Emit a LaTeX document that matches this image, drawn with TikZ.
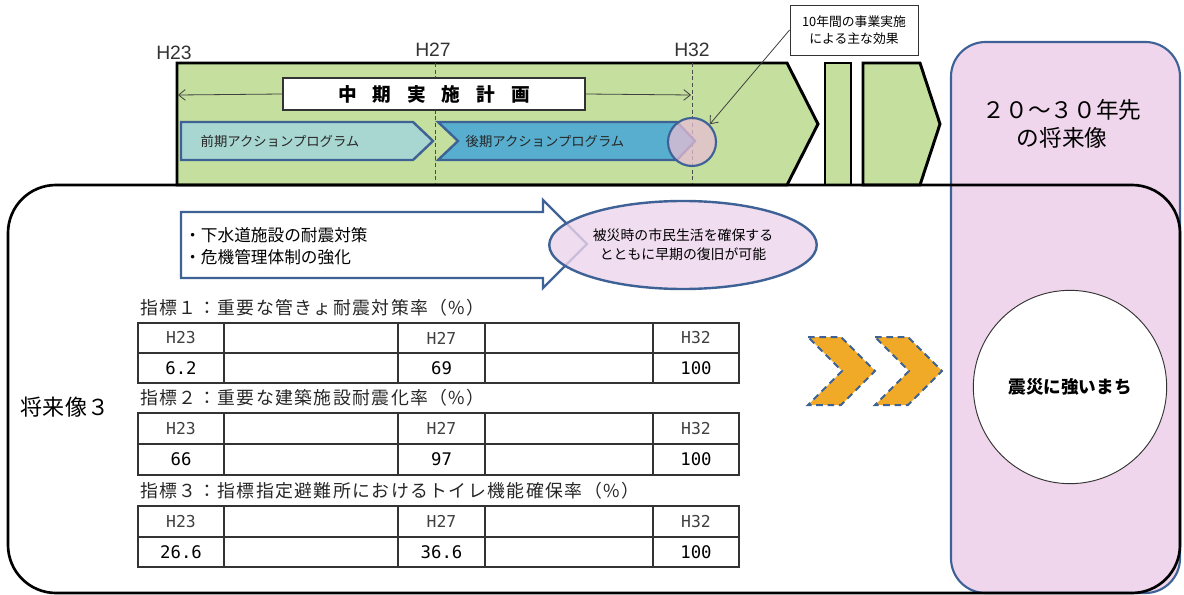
\documentclass[tikz,border=0pt]{standalone}
\usepackage{fontspec}
\setmainfont{Noto Sans CJK JP}
\newfontfamily\lat{Liberation Sans}
\newfontfamily\mono{DejaVu Sans Mono}
\newfontfamily\ttlfont[LetterSpace=8]{Noto Sans CJK JP}
\usetikzlibrary{shapes.geometric,arrows.meta,calc}
\definecolor{bgreen}{RGB}{196,223,158}
\definecolor{bblue}{RGB}{62,98,150}
\definecolor{teal1}{RGB}{168,214,208}
\definecolor{teal2}{RGB}{88,174,206}
\definecolor{pinkbg}{RGB}{239,214,236}
\definecolor{pinkel}{RGB}{236,212,236}
\definecolor{orng}{RGB}{240,170,40}
\tikzset{
  banner/.style={draw=black,line width=2.2pt,fill=bgreen,line join=miter},
  progarrow/.style={draw=bblue,line width=1.8pt,line join=miter},
  thinarrow/.style={draw=black!75,line width=0.6pt,-{Straight Barb[length=5pt,width=8pt]}},
  yearlbl/.style={font=\lat\fontsize{14.5pt}{16pt}\selectfont,text=black!80},
  tabline/.style={draw=black!80,line width=0.8pt},
  tabtitle/.style={anchor=west,font=\ttlfont\fontsize{13.4pt}{15pt}\selectfont,text=black!85,inner sep=0pt},
  hdr/.style={font=\mono\fontsize{12.3pt}{13pt}\selectfont,text=black!75},
  val/.style={font=\mono\fontsize{13pt}{14pt}\selectfont,text=black},
  chev/.style={fill=orng,draw=bblue,line width=1.5pt,dash pattern=on 5pt off 3.5pt,line join=miter}
}
\begin{document}
\begin{tikzpicture}[x=0.75pt,y=-0.75pt]
\useasboundingbox (0,0) rectangle (1184,595);

% green banner
\draw[banner] (177,63) -- (787,63) -- (818,124) -- (787,185) -- (177,185) -- cycle;
\draw[banner] (825,63) rectangle (851,185);
\draw[banner] (863,63) -- (920,63) -- (940,124) -- (920,185) -- (863,185) -- cycle;

% dashed year lines
\draw[black!70,line width=0.7pt,dash pattern=on 3pt off 2pt] (435,63) -- (435,185);
\draw[black!70,line width=0.7pt,dash pattern=on 3pt off 2pt] (692,63) -- (692,185);

% year labels
\node[yearlbl] (y23) at (174,53) {H23};
\node[yearlbl] (y27) at (433,50) {H27};
\node[yearlbl] (y32) at (692,50) {H32};

% plan box
\node[draw=black!80,line width=0.8pt,fill=white,minimum width=226.5pt,minimum height=24pt,
      font=\bfseries\fontsize{14pt}{16pt}\selectfont] (plan) at (434,94)
      {中\hspace{12pt}期\hspace{12pt}実\hspace{12pt}施\hspace{12pt}計\hspace{12pt}画};
\coordinate (l23) at (178,95);
\coordinate (r32) at (691,95);
\draw[thinarrow] (plan.west) -- (l23);
\draw[thinarrow] (plan.east) -- (r32);

% program arrows
\draw[progarrow,fill=teal1] (181,122) -- (413,122) -- (433,141) -- (413,160) -- (181,160) -- cycle;
\node[font=\fontsize{10pt}{12pt}\selectfont,text=black!85] (p1) at (280,141) {前期アクションプログラム};
\draw[progarrow,fill=teal2] (438,122) -- (677,122) -- (695,141) -- (677,160) -- (438,160) -- (458,141) -- cycle;
\node[font=\fontsize{10pt}{12pt}\selectfont,text=black!85] (p2) at (545,141) {後期アクションプログラム};

% circle at H32
\node[circle,draw=bblue,line width=1.6pt,fill={rgb,255:red,232;green,190;blue,212},fill opacity=0.75,
      minimum size=36pt,inner sep=0pt] (c32) at (692,142) {};

% callout
\node[draw=black!80,line width=0.7pt,fill=white,minimum width=96pt,minimum height=37.5pt,align=center,
      font=\fontsize{9.6pt}{12.5pt}\selectfont,inner sep=1pt] (eff) at (854,30)
      {10年間の事業実施\\による主な効果};
\draw[thinarrow] (eff.west) -- (c32.north east);

% pink future column
\draw[draw=bblue,line width=1.6pt,fill=pinkbg,rounded corners=26pt] (951,42) rectangle (1180,593);
\node[align=center,font=\fontsize{17pt}{21pt}\selectfont] (fut) at (1062,124) {２０～３０年先\\の将来像};

% big black frame
\draw[black,line width=2pt,rounded corners=36pt] (8,185) rectangle (1180,593);

\node[font=\fontsize{16.5pt}{18pt}\selectfont] (fv3) at (65,407) {将来像３};

% big outlined arrow
\draw[progarrow,fill=white] (181,212) -- (543,212) -- (543,200) -- (587,244) -- (543,288) -- (543,278) -- (181,278) -- cycle;
\node[anchor=west,align=left,font=\fontsize{12.5pt}{16.5pt}\selectfont,inner sep=0pt] (meas) at (184,246)
      {・下水道施設の耐震対策\\・危機管理体制の強化};

% ellipse
\node[ellipse,draw=bblue,line width=1.8pt,fill=pinkel,fill opacity=0.8,text opacity=1,
      minimum width=168pt,minimum height=66pt,align=center,
      font=\fontsize{10.4pt}{14pt}\selectfont] (eff2) at (683,245)
      {被災時の市民生活を確保する\\とともに早期の復旧が可能};

% chevrons
\draw[chev] (808,337) -- (841,337) -- (875,371) -- (841,405) -- (808,405) -- (842,371) -- cycle;
\draw[chev] (875,337) -- (908,337) -- (942,371) -- (908,405) -- (875,405) -- (909,371) -- cycle;

% white circle
\node[circle,draw=black!80,line width=0.7pt,fill=white,minimum size=145pt,
      font=\bfseries\fontsize{13.2pt}{15pt}\selectfont] (goal) at (1070,387) {震災に強いまち};

% tables
\foreach \T/\M/\B/\ti/\a/\b/\c/\n in {
  323/353/383/{指標１：重要な管きょ耐震対策率（\%）}/6.2/69/100/1,
  413/444/475/{指標２：重要な建築施設耐震化率（\%）}/66/97/100/2,
  506/537/567/{指標３：指標指定避難所におけるトイレ機能確保率（\%）}/26.6/36.6/100/3}{
  \node[tabtitle] (ti\n) at (140,\T-15) {\ti};
  \draw[tabline] (138,\T) rectangle (739,\B);
  \draw[tabline] (138,\M) -- (739,\M);
  \foreach \xx in {224,398,485,653} {\draw[tabline] (\xx,\T) -- (\xx,\B);}
  \node[hdr] (ha\n) at (181,{(\T+\M)/2}) {H23};
  \node[hdr] (hb\n) at (441.5,{(\T+\M)/2}) {H27};
  \node[hdr] (hc\n) at (696,{(\T+\M)/2}) {H32};
  \node[val] (va\n) at (181,{(\M+\B)/2}) {\a};
  \node[val] (vb\n) at (441.5,{(\M+\B)/2}) {\b};
  \node[val] (vc\n) at (696,{(\M+\B)/2}) {\c};
}
\end{tikzpicture}
\end{document}
